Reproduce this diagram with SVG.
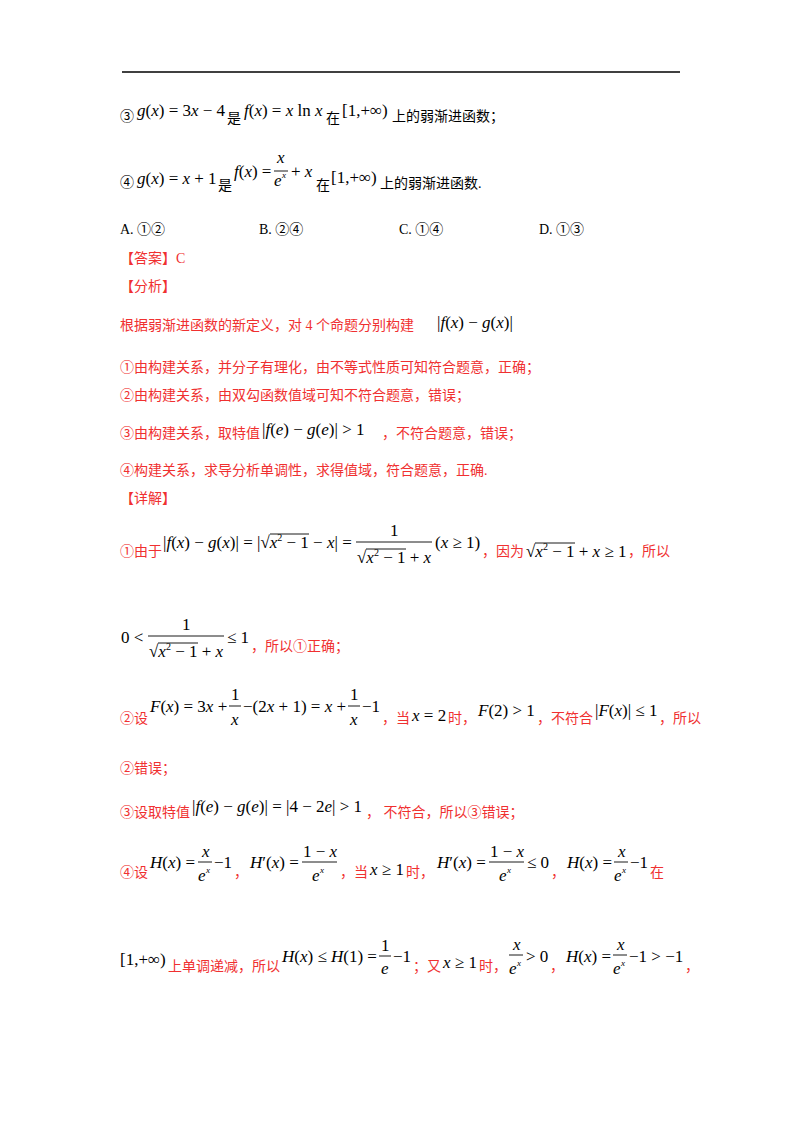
<svg xmlns="http://www.w3.org/2000/svg" width="800" height="1132" viewBox="0 0 800 1132">
<style>
.c{font-family:"Liberation Serif","Noto Sans CJK SC",serif;font-size:14px;fill:#000}
.r{font-family:"Liberation Serif","Noto Sans CJK SC",serif;font-size:14px;fill:#f03030}
.m{font-family:"Liberation Serif",serif;font-size:17px;fill:#000}
.s{font-family:"Liberation Serif",serif;font-size:9px;fill:#000}
.i{font-style:italic}
.fl{stroke:#000;stroke-width:0.9}
</style>
<rect width="800" height="1132" fill="#fff"/>
<line x1="122" y1="72" x2="680" y2="72" stroke="#000" stroke-width="1.5"/>
<g id="l3">
<text class="c" x="120" y="121">③</text>
<text class="m" x="137" y="116"><tspan class="i">g</tspan>(<tspan class="i">x</tspan>) = 3<tspan class="i">x</tspan> − 4</text>
<text class="c" x="227" y="123">是</text>
<text class="m" x="244" y="116"><tspan class="i">f</tspan>(<tspan class="i">x</tspan>) = <tspan class="i">x</tspan> ln <tspan class="i">x</tspan></text>
<text class="c" x="326" y="123">在</text>
<text class="m" x="342" y="116">[1,+∞)</text>
<text class="c" x="392" y="121">上的弱渐进函数；</text>
</g>
<g id="l4">
<text class="c" x="120" y="187">④</text>
<text class="m" x="137" y="184"><tspan class="i">g</tspan>(<tspan class="i">x</tspan>) = <tspan class="i">x</tspan> + 1</text>
<text class="c" x="218" y="190">是</text>
<text class="m" x="234" y="177"><tspan class="i">f</tspan>(<tspan class="i">x</tspan>) =</text>
<text class="m i" x="277" y="163">x</text>
<line class="fl" x1="274" y1="171" x2="288" y2="171"/>
<text class="m i" x="274" y="186">e</text><text class="s i" x="282" y="178">x</text>
<text class="m" x="291" y="177">+ <tspan class="i">x</tspan></text>
<text class="c" x="316" y="190">在</text>
<text class="m" x="331" y="183">[1,+∞)</text>
<text class="c" x="380" y="188">上的弱渐进函数.</text>
</g>
<g id="opts">
<text class="c" x="120" y="234">A. ①②</text>
<text class="c" x="259" y="234">B. ②④</text>
<text class="c" x="399" y="234">C. ①④</text>
<text class="c" x="539" y="234">D. ①③</text>
</g>
<text class="r" x="120" y="263">【答案】C</text>
<text class="r" x="120" y="291">【分析】</text>
<text class="r" x="120" y="330">根据弱渐进函数的新定义，对 4 个命题分别构建</text>
<text class="m" x="437" y="328">|<tspan class="i">f</tspan>(<tspan class="i">x</tspan>) − <tspan class="i">g</tspan>(<tspan class="i">x</tspan>)|</text>
<text class="r" x="120" y="372">①由构建关系，并分子有理化，由不等式性质可知符合题意，正确；</text>
<text class="r" x="120" y="400">②由构建关系，由双勾函数值域可知不符合题意，错误；</text>
<text class="r" x="120" y="438">③由构建关系，取特值</text>
<text class="m" x="262" y="435">|<tspan class="i">f</tspan>(<tspan class="i">e</tspan>) − <tspan class="i">g</tspan>(<tspan class="i">e</tspan>)| &gt; 1</text>
<text class="r" x="382" y="438">，不符合题意，错误；</text>
<text class="r" x="120" y="475">④构建关系，求导分析单调性，求得值域，符合题意，正确.</text>
<text class="r" x="120" y="503">【详解】</text>
<g id="d1">
<text class="r" x="120" y="556">①由于</text>
<text class="m" x="163" y="548">|<tspan class="i">f</tspan>(<tspan class="i">x</tspan>) − <tspan class="i">g</tspan>(<tspan class="i">x</tspan>)| = |√<tspan class="i">x</tspan><tspan font-size="10" dy="-7">2</tspan><tspan dy="7"> − 1 − </tspan><tspan class="i">x</tspan>| =</text>
<line class="fl" x1="270" y1="534" x2="309" y2="534"/>
<text class="m" x="390" y="536">1</text>
<line class="fl" x1="356" y1="542" x2="432" y2="542"/>
<text class="m" x="357" y="563">√<tspan class="i">x</tspan><tspan font-size="10" dy="-7">2</tspan><tspan dy="7"> − 1 + </tspan><tspan class="i">x</tspan></text>
<line class="fl" x1="366" y1="549" x2="406" y2="549"/>
<text class="m" x="435" y="548">(<tspan class="i">x</tspan> ≥ 1)</text>
<text class="r" x="482" y="556">，因为</text>
<text class="m" x="526" y="557">√<tspan class="i">x</tspan><tspan font-size="10" dy="-7">2</tspan><tspan dy="7"> − 1 + </tspan><tspan class="i">x</tspan> ≥ 1</text>
<line class="fl" x1="535" y1="543" x2="575" y2="543"/>
<text class="r" x="628" y="556">，所以</text>
</g>
<g id="d1b">
<text class="m" x="121" y="643">0 &lt;</text>
<text class="m" x="182" y="630">1</text>
<line class="fl" x1="148" y1="636" x2="224" y2="636"/>
<text class="m" x="149" y="657">√<tspan class="i">x</tspan><tspan font-size="10" dy="-7">2</tspan><tspan dy="7"> − 1 + </tspan><tspan class="i">x</tspan></text>
<line class="fl" x1="158" y1="643" x2="198" y2="643"/>
<text class="m" x="227" y="643">≤ 1</text>
<text class="r" x="251" y="651">，所以①正确；</text>
</g>
<g id="d2">
<text class="r" x="120" y="723">②设</text>
<text class="m" x="150" y="712"><tspan class="i">F</tspan>(<tspan class="i">x</tspan>) = 3<tspan class="i">x</tspan> +</text>
<text class="m" x="231" y="700">1</text>
<line class="fl" x1="229" y1="706" x2="241" y2="706"/>
<text class="m i" x="231" y="725">x</text>
<text class="m" x="243" y="712">−(2<tspan class="i">x</tspan> + 1) = <tspan class="i">x</tspan> +</text>
<text class="m" x="350" y="700">1</text>
<line class="fl" x1="348" y1="706" x2="360" y2="706"/>
<text class="m i" x="350" y="725">x</text>
<text class="m" x="362" y="712">−1</text>
<text class="r" x="382" y="723">，当</text>
<text class="m" x="412" y="721"><tspan class="i">x</tspan> = 2</text>
<text class="r" x="448" y="723">时，</text>
<text class="m" x="478" y="716"><tspan class="i">F</tspan>(2) &gt; 1</text>
<text class="r" x="537" y="723">，不符合</text>
<text class="m" x="595" y="716">|<tspan class="i">F</tspan>(<tspan class="i">x</tspan>)| ≤ 1</text>
<text class="r" x="659" y="723">，所以</text>
</g>
<text class="r" x="120" y="773">②错误；</text>
<g id="d3">
<text class="r" x="120" y="817">③设取特值</text>
<text class="m" x="192" y="812">|<tspan class="i">f</tspan>(<tspan class="i">e</tspan>) − <tspan class="i">g</tspan>(<tspan class="i">e</tspan>)| = |4 − 2<tspan class="i">e</tspan>| &gt; 1</text>
<text class="r" x="366" y="817">，  不符合，所以③错误；</text>
</g>
<g id="d4">
<text class="r" x="120" y="877">④设</text>
<text class="m" x="150" y="868"><tspan class="i">H</tspan>(<tspan class="i">x</tspan>) =</text>
<text class="m i" x="202" y="857">x</text>
<line class="fl" x1="198" y1="862" x2="212" y2="862"/>
<text class="m i" x="198" y="881">e</text><text class="s i" x="206" y="873">x</text>
<text class="m" x="214" y="868">−1</text>
<text class="r" x="234" y="877">，</text>
<text class="m" x="250" y="868"><tspan class="i">H</tspan>′(<tspan class="i">x</tspan>) =</text>
<text class="m" x="303" y="857">1 − <tspan class="i">x</tspan></text>
<line class="fl" x1="302" y1="862" x2="337" y2="862"/>
<text class="m i" x="312" y="881">e</text><text class="s i" x="320" y="873">x</text>
<text class="r" x="340" y="877">，当</text>
<text class="m" x="370" y="875"><tspan class="i">x</tspan> ≥ 1</text>
<text class="r" x="406" y="877">时，</text>
<text class="m" x="437" y="868"><tspan class="i">H</tspan>′(<tspan class="i">x</tspan>) =</text>
<text class="m" x="490" y="857">1 − <tspan class="i">x</tspan></text>
<line class="fl" x1="489" y1="862" x2="524" y2="862"/>
<text class="m i" x="499" y="881">e</text><text class="s i" x="507" y="873">x</text>
<text class="m" x="527" y="868">≤ 0</text>
<text class="r" x="551" y="877">，</text>
<text class="m" x="567" y="868"><tspan class="i">H</tspan>(<tspan class="i">x</tspan>) =</text>
<text class="m i" x="618" y="857">x</text>
<line class="fl" x1="614" y1="862" x2="628" y2="862"/>
<text class="m i" x="614" y="881">e</text><text class="s i" x="622" y="873">x</text>
<text class="m" x="630" y="868">−1</text>
<text class="r" x="650" y="877">在</text>
</g>
<g id="d4b">
<text class="m" x="120" y="965">[1,+∞)</text>
<text class="r" x="168" y="971">上单调递减，所以</text>
<text class="m" x="282" y="962"><tspan class="i">H</tspan>(<tspan class="i">x</tspan>) ≤ <tspan class="i">H</tspan>(1) =</text>
<text class="m" x="381" y="951">1</text>
<line class="fl" x1="379" y1="956" x2="391" y2="956"/>
<text class="m i" x="381" y="974">e</text>
<text class="m" x="393" y="962">−1</text>
<text class="r" x="413" y="971">；又</text>
<text class="m" x="443" y="968"><tspan class="i">x</tspan> ≥ 1</text>
<text class="r" x="479" y="971">时，</text>
<text class="m i" x="513" y="950">x</text>
<line class="fl" x1="509" y1="955" x2="523" y2="955"/>
<text class="m i" x="509" y="974">e</text><text class="s i" x="517" y="966">x</text>
<text class="m" x="526" y="962">&gt; 0</text>
<text class="r" x="550" y="971">，</text>
<text class="m" x="566" y="962"><tspan class="i">H</tspan>(<tspan class="i">x</tspan>) =</text>
<text class="m i" x="617" y="950">x</text>
<line class="fl" x1="613" y1="955" x2="627" y2="955"/>
<text class="m i" x="613" y="974">e</text><text class="s i" x="621" y="966">x</text>
<text class="m" x="629" y="962">−1 &gt; −1</text>
<text class="r" x="685" y="971">，</text>
</g>
</svg>
